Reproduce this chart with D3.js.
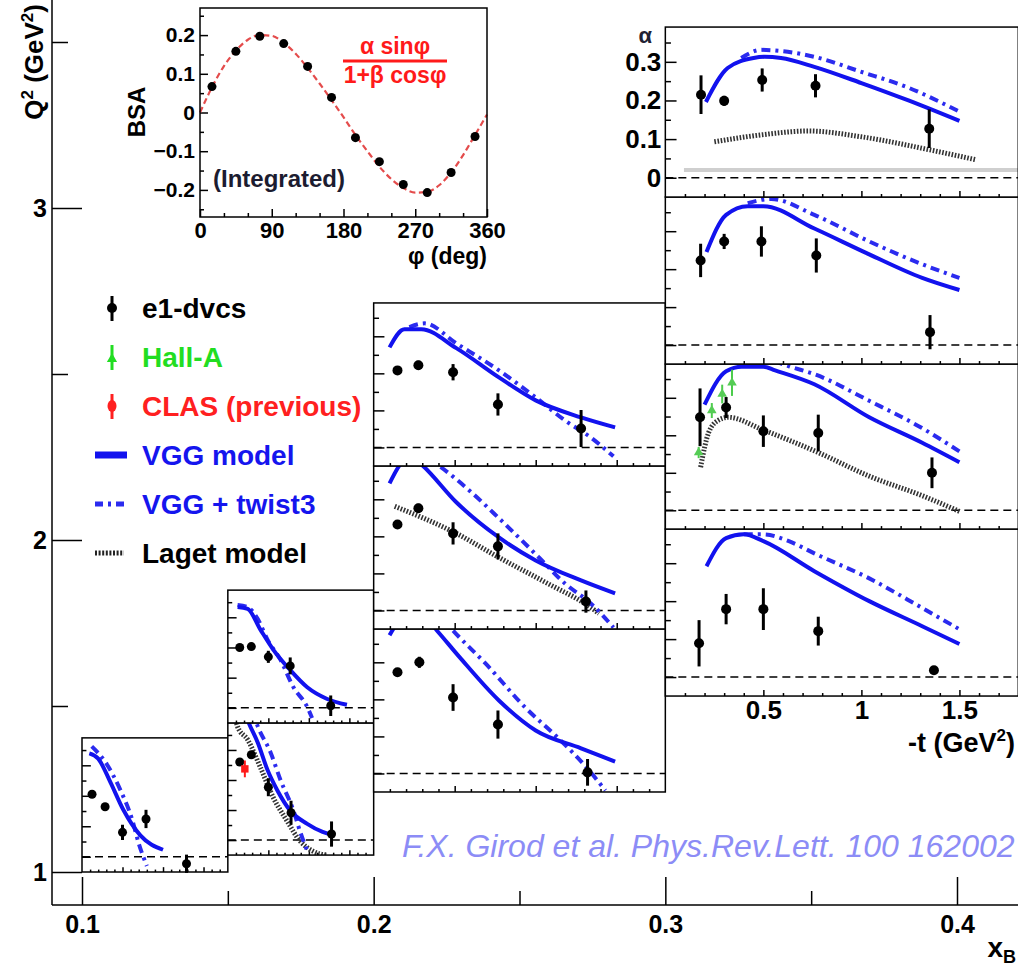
<!DOCTYPE html>
<html>
<head>
<meta charset="utf-8">
<script src="https://cdn.jsdelivr.net/npm/d3@7"></script>
<style>
  body { margin: 0; background: #fff; }
  svg text { font-family: "Liberation Sans", Arial, Helvetica, sans-serif; font-weight: bold; }
  svg text.cite { font-weight: normal; font-style: italic; }
</style>
</head>
<body>
<svg id="chart" width="1018" height="966"></svg>
<script>
// ---- main axes ticks ----
const q2Major = [1, 2, 3]
const q2Minor = [1.5, 2.5, 3.5]
const xbMajor = [0.1, 0.2, 0.3, 0.4]
const xbMinor = [0.15, 0.25, 0.35]

// ---- panel axes ticks ----
const tMajor = [0.5, 1, 1.5]
const tMinor = [0.1, 0.2, 0.3, 0.4, 0.6, 0.7, 0.8, 0.9, 1.1, 1.2, 1.3, 1.4, 1.6, 1.7]
const aMajor = [0, 0.1, 0.2, 0.3]
const aMinor = [0.05, 0.15, 0.25, 0.35]

// ---- data: [-t, alpha, error] for points, [-t, alpha] for curves ----
// xB 0.10-0.15
const e1A = [[0.124, 0.205, 0.012], [0.285, 0.164, 0.012], [0.50, 0.080, 0.025], [0.79, 0.124, 0.03], [1.29, -0.023, 0.03]]
const vggA = [[0.09, 0.339], [0.20, 0.322], [0.35, 0.245], [0.51, 0.154], [0.72, 0.070], [1.00, 0.023]]
const tw3A = [[0.12, 0.362], [0.285, 0.312], [0.47, 0.221], [0.62, 0.121], [0.70, 0.044], [0.80, -0.030]]

// xB 0.15-0.20, low Q2
const e1B1 = [[0.147, 0.26, 0.01], [0.29, 0.284, 0.012], [0.50, 0.176, 0.03], [0.78, 0.091, 0.04], [1.28, 0.02, 0.042]]
const clasB1 = [[0.21, 0.237, 0.028]]
const vggB1 = [[0.20, 0.43], [0.26, 0.389], [0.37, 0.324], [0.49, 0.233], [0.61, 0.166], [0.77, 0.098], [0.98, 0.054], [1.17, 0.027], [1.30, 0.017]]
const tw3B1 = [[0.30, 0.43], [0.37, 0.378], [0.53, 0.29], [0.65, 0.20], [0.81, 0.098], [0.89, 0.03], [0.98, -0.037]]
const lagB1 = [[0.10, 0.40], [0.12, 0.378], [0.245, 0.334], [0.40, 0.243], [0.56, 0.142], [0.73, 0.064], [0.89, -0.003], [1.05, -0.037], [1.22, -0.05]]

// xB 0.15-0.20, high Q2
const e1B2 = [[0.147, 0.20, 0.01], [0.29, 0.203, 0.01], [0.50, 0.169, 0.02], [0.77, 0.139, 0.028], [1.27, 0.007, 0.034]]
const vggB2 = [[0.12, 0.334], [0.245, 0.328], [0.40, 0.26], [0.56, 0.193], [0.77, 0.125], [0.98, 0.068], [1.22, 0.03], [1.47, 0.01]]
const tw3B2 = [[0.12, 0.341], [0.245, 0.334], [0.37, 0.294], [0.49, 0.226], [0.65, 0.159], [0.81, 0.068], [0.98, 0.003], [1.04, -0.034]]

// xB 0.20-0.30
const e1C1 = [[0.147, 0.273, 0.01], [0.282, 0.30, 0.015], [0.49, 0.205, 0.036], [0.767, 0.132, 0.038], [1.32, 0.003, 0.036]]
const vggC1 = [[0.098, 0.373], [0.18, 0.42], [0.30, 0.43], [0.39, 0.386], [0.53, 0.314], [0.773, 0.197], [1.0, 0.116], [1.28, 0.068], [1.49, 0.032]]
const tw3C1 = [[0.40, 0.43], [0.50, 0.381], [0.69, 0.297], [0.94, 0.176], [1.14, 0.095], [1.33, 0.008], [1.43, -0.046]]

const e1C2 = [[0.147, 0.232, 0.01], [0.276, 0.276, 0.012], [0.49, 0.208, 0.03], [0.767, 0.173, 0.035], [1.31, 0.024, 0.03]]
const vggC2 = [[0.098, 0.343], [0.16, 0.392], [0.22, 0.42], [0.30, 0.392], [0.51, 0.292], [0.773, 0.197], [1.0, 0.135], [1.28, 0.081], [1.49, 0.046]]
const tw3C2 = [[0.30, 0.42], [0.417, 0.386], [0.59, 0.324], [0.773, 0.249], [1.02, 0.143], [1.18, 0.073], [1.34, 0.019], [1.48, -0.046]]
const lagC2 = [[0.13, 0.281], [0.51, 0.208], [0.773, 0.143], [1.06, 0.076], [1.34, 0.008], [1.39, -0.008]]

const e1C3 = [[0.147, 0.208, 0.01], [0.276, 0.222, 0.012], [0.49, 0.203, 0.022], [0.767, 0.116, 0.03], [1.28, 0.051, 0.05]]
const vggC3 = [[0.098, 0.27], [0.19, 0.319], [0.294, 0.319], [0.51, 0.268], [0.773, 0.189], [1.0, 0.127], [1.28, 0.081], [1.49, 0.054]]
const tw3C3 = [[0.22, 0.325], [0.313, 0.335], [0.51, 0.281], [0.773, 0.208], [1.0, 0.135], [1.18, 0.073], [1.34, 0.027], [1.48, -0.024]]

// xB 0.30-0.42
const e1D1 = [[0.172, 0.089, 0.061], [0.31, 0.179, 0.04], [0.50, 0.179, 0.055], [0.78, 0.121, 0.038], [1.37, 0.018, 0.01]]
const vggD1 = [[0.21, 0.292], [0.31, 0.366], [0.40, 0.376], [0.50, 0.358], [0.76, 0.279], [1.04, 0.20], [1.31, 0.134], [1.50, 0.087]]
const tw3D1 = [[0.40, 0.376], [0.50, 0.376], [0.63, 0.358], [0.76, 0.326], [1.04, 0.26], [1.31, 0.182], [1.50, 0.126]]

const e1D2 = [[0.177, 0.248, 0.077], [0.31, 0.274, 0.028], [0.50, 0.211, 0.042], [0.78, 0.206, 0.049], [1.36, 0.10, 0.041]]
const hallD2 = [[0.17, 0.154, 0.015], [0.237, 0.266, 0.02], [0.29, 0.31, 0.025], [0.34, 0.34, 0.035]]
const vggD2 = [[0.20, 0.282], [0.31, 0.371], [0.39, 0.383], [0.50, 0.383], [0.56, 0.373], [0.76, 0.336], [1.04, 0.248], [1.31, 0.18], [1.50, 0.128]]
const tw3D2 = [[0.45, 0.42], [0.63, 0.384], [0.76, 0.363], [1.04, 0.292], [1.31, 0.219], [1.50, 0.157]]
const lagD2 = [[0.18, 0.115], [0.22, 0.206], [0.27, 0.24], [0.32, 0.248], [0.50, 0.214], [0.78, 0.154], [1.04, 0.091], [1.31, 0.039], [1.50, -0.003]]

const e1D3 = [[0.18, 0.223, 0.044], [0.30, 0.273, 0.02], [0.49, 0.273, 0.04], [0.77, 0.236, 0.045], [1.35, 0.034, 0.045]]
const vggD3 = [[0.21, 0.245], [0.31, 0.343], [0.42, 0.366], [0.50, 0.366], [0.76, 0.307], [1.04, 0.239], [1.31, 0.177], [1.50, 0.145]]
const tw3D3 = [[0.42, 0.374], [0.54, 0.385], [0.76, 0.343], [1.04, 0.273], [1.31, 0.213], [1.50, 0.177]]

const e1D4 = [[0.182, 0.215, 0.05], [0.30, 0.199, 0.013], [0.494, 0.253, 0.03], [0.766, 0.238, 0.03], [1.346, 0.127, 0.05]]
const vggD4 = [[0.207, 0.196], [0.318, 0.284], [0.45, 0.31], [0.505, 0.313], [0.59, 0.31], [0.76, 0.287], [1.0, 0.245], [1.24, 0.20], [1.50, 0.147]]
const tw3D4 = [[0.387, 0.31], [0.49, 0.331], [0.59, 0.328], [0.76, 0.313], [1.0, 0.274], [1.24, 0.233], [1.50, 0.171]]
const lagD4 = [[0.25, 0.093], [0.49, 0.111], [0.73, 0.121], [1.0, 0.106], [1.35, 0.072], [1.58, 0.047]]
const bandD4 = [[0.095, 0.02], [1.8, 0.02]]

// ---- integrated BSA inset ----
const bsaPhi = [15, 45, 75, 105, 135, 165, 195, 225, 255, 285, 315, 345]
const bsaVal = [0.067, 0.158, 0.197, 0.178, 0.119, 0.039, -0.065, -0.127, -0.186, -0.207, -0.155, -0.062]
const fitPhi = [0, 15, 30, 45, 60, 75, 90, 105, 120, 135, 150, 165, 180, 195, 210, 225, 240, 255, 270, 285, 300, 315, 330, 345, 360]
const fitVal = [0.0, 0.065, 0.12, 0.16, 0.188, 0.20, 0.198, 0.18, 0.152, 0.115, 0.075, 0.032, -0.012, -0.058, -0.10, -0.14, -0.172, -0.195, -0.207, -0.205, -0.188, -0.155, -0.11, -0.058, -0.005]
const phiTicks = [0, 90, 180, 270, 360]
const phiMinor = [30, 60, 120, 150, 210, 240, 300, 330]
const bsaTicks = [-0.2, -0.1, 0, 0.1, 0.2]
const bsaMinor = [-0.25, -0.15, -0.05, 0.05, 0.15, 0.25]

// ---- legend ----
const legendNames = ['e1-dvcs', 'Hall-A', 'CLAS (previous)', 'VGG model', 'VGG + twist3', 'Laget model']
const legendColors = ['#000', '#22dd22', '#ff2020', '#1515ee', '#1515ee', '#000']

const BLUE = '#1212ee'
const BLUE2 = '#2b2bef'

const svg = d3.select('#chart')
svg.append('rect').attr('width', 1018).attr('height', 966).attr('fill', '#fff')

// main scales
const xB = d3.scaleLinear().domain([0.1, 0.4]).range([82, 957])
const yQ = d3.scaleLinear().domain([1, 3]).range([872, 208])
const axX = 52, axY = 905

const styleAxis = (g, size) => {
  g.attr('font-size', size).attr('font-family', null)
  g.select('.domain').remove()
  g.selectAll('.tick line').attr('stroke', '#000').attr('stroke-width', 1.5)
  g.selectAll('.tick text').attr('fill', '#000')
}

// Q2 axis
svg.append('g').attr('transform', `translate(${axX},0)`)
  .call(d3.axisLeft(yQ).tickValues(q2Major).tickSize(-30).tickPadding(5).tickFormat(d3.format('d')))
  .call(g => styleAxis(g, 25))
svg.append('g').attr('transform', `translate(${axX},0)`)
  .call(d3.axisLeft(yQ).tickValues(q2Minor).tickSize(-16).tickFormat(''))
  .call(g => styleAxis(g, 25))

// xB axis
svg.append('g').attr('transform', `translate(0,${axY})`)
  .call(d3.axisBottom(xB).tickValues(xbMajor).tickSize(-28).tickPadding(10).tickFormat(d3.format('.1f')))
  .call(g => styleAxis(g, 25))
svg.append('g').attr('transform', `translate(0,${axY})`)
  .call(d3.axisBottom(xB).tickValues(xbMinor).tickSize(-14).tickFormat(''))
  .call(g => styleAxis(g, 25))

svg.append('line').attr('x1', axX).attr('x2', axX).attr('y1', 0).attr('y2', axY).attr('stroke', '#000').attr('stroke-width', 1.5)
svg.append('line').attr('x1', axX).attr('x2', 1018).attr('y1', axY).attr('y2', axY).attr('stroke', '#000').attr('stroke-width', 1.5)

// axis titles
const q2Title = svg.append('text').attr('transform', 'translate(43,4) rotate(-90)')
  .attr('text-anchor', 'end').attr('font-size', 26)
q2Title.append('tspan').text('Q')
q2Title.append('tspan').attr('font-size', 17).attr('dy', -10).text('2')
q2Title.append('tspan').attr('dy', 10).text(' (GeV')
q2Title.append('tspan').attr('font-size', 17).attr('dy', -10).text('2')
q2Title.append('tspan').attr('dy', 10).text(')')

const xbTitle = svg.append('text').attr('x', 1016).attr('y', 957).attr('text-anchor', 'end').attr('font-size', 28)
xbTitle.append('tspan').text('x')
xbTitle.append('tspan').attr('font-size', 18).attr('dy', 6).text('B')

// ---- panels ----
const tDomain = [0, 1.8]
const aDomain = [-0.05, 0.39]
const panels = [
  { xb: [0.10, 0.15], q2: [1.000, 1.404], pts: e1A, vgg: vggA, tw3: tw3A },
  { xb: [0.15, 0.20], q2: [1.051, 1.449], pts: e1B1, vgg: vggB1, tw3: tw3B1, lag: lagB1, clas: clasB1 },
  { xb: [0.15, 0.20], q2: [1.449, 1.849], pts: e1B2, vgg: vggB2, tw3: tw3B2 },
  { xb: [0.20, 0.30], q2: [1.241, 1.732], pts: e1C1, vgg: vggC1, tw3: tw3C1 },
  { xb: [0.20, 0.30], q2: [1.732, 2.223], pts: e1C2, vgg: vggC2, tw3: tw3C2, lag: lagC2 },
  { xb: [0.20, 0.30], q2: [2.223, 2.714], pts: e1C3, vgg: vggC3, tw3: tw3C3 },
  { xb: [0.30, 0.421], q2: [1.530, 2.033], pts: e1D1, vgg: vggD1, tw3: tw3D1, xLabels: true },
  { xb: [0.30, 0.421], q2: [2.033, 2.530], pts: e1D2, vgg: vggD2, tw3: tw3D2, lag: lagD2, hall: hallD2 },
  { xb: [0.30, 0.421], q2: [2.530, 3.033], pts: e1D3, vgg: vggD3, tw3: tw3D3 },
  { xb: [0.30, 0.421], q2: [3.033, 3.545], pts: e1D4, vgg: vggD4, tw3: tw3D4, lag: lagD4, band: bandD4, yLabels: true }
]

panels.forEach((p, i) => {
  const x0 = xB(p.xb[0]), x1 = xB(p.xb[1])
  const yT = yQ(p.q2[1]), yB = yQ(p.q2[0])
  const h = yB - yT
  const tx = d3.scaleLinear().domain(tDomain).range([x0, x1])
  const ay = d3.scaleLinear().domain(aDomain).range([yB, yT])
  const line = d3.line().x(d => tx(d[0])).y(d => ay(d[1])).curve(d3.curveMonotoneX)
  const g = svg.append('g')

  g.append('clipPath').attr('id', 'clip' + i)
    .append('rect').attr('x', x0).attr('y', yT).attr('width', x1 - x0).attr('height', h)
  g.append('rect').attr('x', x0).attr('y', yT).attr('width', x1 - x0).attr('height', h).attr('fill', '#fff')

  const yMaj = h * 0.066, xMaj = h * 0.036
  g.append('g').attr('transform', `translate(${x0},0)`)
    .call(d3.axisLeft(ay).tickValues(aMajor).tickSize(-yMaj).tickPadding(4)
      .tickFormat(p.yLabels ? d3.format('.1~f') : ''))
    .call(a => styleAxis(a, 26))
  g.append('g').attr('transform', `translate(${x0},0)`)
    .call(d3.axisLeft(ay).tickValues(aMinor).tickSize(-yMaj / 2).tickFormat(''))
    .call(a => styleAxis(a, 26))
  g.append('g').attr('transform', `translate(0,${yB})`)
    .call(d3.axisBottom(tx).tickValues(tMajor).tickSize(-xMaj).tickPadding(4)
      .tickFormat(p.xLabels ? d3.format('~g') : ''))
    .call(a => styleAxis(a, 26))
  g.append('g').attr('transform', `translate(0,${yB})`)
    .call(d3.axisBottom(tx).tickValues(tMinor).tickSize(-xMaj / 2).tickFormat(''))
    .call(a => styleAxis(a, 26))

  // zero line
  g.append('line').attr('x1', x0).attr('x2', x1).attr('y1', ay(0)).attr('y2', ay(0))
    .attr('stroke', '#000').attr('stroke-width', 1.5).attr('stroke-dasharray', '8,5')

  const cg = g.append('g').attr('clip-path', `url(#clip${i})`)
  if (p.band) {
    cg.append('path').datum(p.band).attr('d', line).attr('fill', 'none')
      .attr('stroke', '#cfcfcf').attr('stroke-width', 4)
  }
  if (p.lag) {
    cg.append('path').datum(p.lag).attr('d', line).attr('fill', 'none')
      .attr('stroke', '#333').attr('stroke-width', 5).attr('stroke-dasharray', '1.6,1.6')
  }
  cg.append('path').datum(p.tw3).attr('d', line).attr('fill', 'none')
    .attr('stroke', BLUE2).attr('stroke-width', 4).attr('stroke-dasharray', '9,5,3,5')
  cg.append('path').datum(p.vgg).attr('d', line).attr('fill', 'none')
    .attr('stroke', BLUE).attr('stroke-width', 4)

  const r = h > 150 ? 5 : 4.5
  const pg = g.append('g')
  pg.selectAll('line.err').data(p.pts).join('line')
    .attr('x1', d => tx(d[0])).attr('x2', d => tx(d[0]))
    .attr('y1', d => ay(d[1] - d[2])).attr('y2', d => ay(d[1] + d[2]))
    .attr('stroke', '#000').attr('stroke-width', 3)
  pg.selectAll('circle').data(p.pts).join('circle')
    .attr('cx', d => tx(d[0])).attr('cy', d => ay(d[1])).attr('r', r).attr('fill', '#000')

  if (p.hall) {
    const hg = g.append('g')
    hg.selectAll('line').data(p.hall).join('line')
      .attr('x1', d => tx(d[0])).attr('x2', d => tx(d[0]))
      .attr('y1', d => ay(d[1] - d[2])).attr('y2', d => ay(d[1] + d[2]))
      .attr('stroke', '#4ccc4c').attr('stroke-width', 2)
    hg.selectAll('path').data(p.hall).join('path')
      .attr('d', d3.symbol().type(d3.symbolTriangle).size(40))
      .attr('transform', d => `translate(${tx(d[0])},${ay(d[1])})`)
      .attr('fill', '#55cc55')
  }
  if (p.clas) {
    const rg = g.append('g')
    rg.selectAll('line.v').data(p.clas).join('line')
      .attr('x1', d => tx(d[0])).attr('x2', d => tx(d[0]))
      .attr('y1', d => ay(d[1] - d[2])).attr('y2', d => ay(d[1] + d[2]))
      .attr('stroke', '#ff1a1a').attr('stroke-width', 2)
    rg.selectAll('path').data(p.clas).join('path')
      .attr('d', d3.symbol().type(d3.symbolSquare).size(55))
      .attr('transform', d => `translate(${tx(d[0])},${ay(d[1])})`)
      .attr('fill', '#ff1a1a')
  }

  g.append('rect').attr('x', x0).attr('y', yT).attr('width', x1 - x0).attr('height', h)
    .attr('fill', 'none').attr('stroke', '#000').attr('stroke-width', 1.5)

  if (p.yLabels) {
    g.append('text').attr('x', x0 - 20).attr('y', yT + 16).attr('text-anchor', 'middle')
      .attr('font-size', 22).attr('fill', '#223').text('α')
  }
  if (p.xLabels) {
    const tt = g.append('text').attr('x', 1015).attr('y', yB + 56).attr('text-anchor', 'end').attr('font-size', 27)
    tt.append('tspan').text('-t (GeV')
    tt.append('tspan').attr('font-size', 17).attr('dy', -11).text('2')
    tt.append('tspan').attr('dy', 11).text(')')
  }
})

// ---- inset: integrated BSA ----
const phiX = d3.scaleLinear().domain([0, 360]).range([200, 487])
const bsaY = d3.scaleLinear().domain([-0.27, 0.27]).range([217, 8])
const ig = svg.append('g')
ig.append('rect').attr('x', 200).attr('y', 8).attr('width', 287).attr('height', 209).attr('fill', '#fff')
ig.append('g').attr('transform', 'translate(200,0)')
  .call(d3.axisLeft(bsaY).tickValues(bsaTicks).tickSize(-8).tickPadding(5).tickFormat(d3.format('.1~f')))
  .call(a => styleAxis(a, 21))
ig.append('g').attr('transform', 'translate(200,0)')
  .call(d3.axisLeft(bsaY).tickValues(bsaMinor).tickSize(-4).tickFormat(''))
  .call(a => styleAxis(a, 21))
ig.append('g').attr('transform', 'translate(0,217)')
  .call(d3.axisBottom(phiX).tickValues(phiTicks).tickSize(-8).tickPadding(5).tickFormat(d3.format('d')))
  .call(a => styleAxis(a, 22))
ig.append('g').attr('transform', 'translate(0,217)')
  .call(d3.axisBottom(phiX).tickValues(phiMinor).tickSize(-4).tickFormat(''))
  .call(a => styleAxis(a, 22))

ig.append('path').datum(d3.zip(fitPhi, fitVal))
  .attr('d', d3.line().x(d => phiX(d[0])).y(d => bsaY(d[1])).curve(d3.curveMonotoneX))
  .attr('fill', 'none').attr('stroke', '#e44c4c').attr('stroke-width', 2.2).attr('stroke-dasharray', '6,3.5')
ig.selectAll('circle').data(d3.zip(bsaPhi, bsaVal)).join('circle')
  .attr('cx', d => phiX(d[0])).attr('cy', d => bsaY(d[1])).attr('r', 4.5).attr('fill', '#000')
ig.append('rect').attr('x', 200).attr('y', 8).attr('width', 287).attr('height', 209)
  .attr('fill', 'none').attr('stroke', '#000').attr('stroke-width', 1.5)

ig.append('text').attr('transform', 'translate(145,112) rotate(-90)').attr('text-anchor', 'middle')
  .attr('font-size', 24).text('BSA')
ig.append('text').attr('x', 487).attr('y', 264).attr('text-anchor', 'end').attr('font-size', 23).text('φ (deg)')
ig.append('text').attr('x', 213).attr('y', 187).attr('font-size', 24).attr('fill', '#1c1c30').text('(Integrated)')
ig.append('text').attr('x', 395).attr('y', 54).attr('text-anchor', 'middle').attr('font-size', 23)
  .attr('fill', '#ff1a1a').text('α sinφ')
ig.append('line').attr('x1', 343).attr('x2', 447).attr('y1', 61).attr('y2', 61)
  .attr('stroke', '#ff1a1a').attr('stroke-width', 3)
ig.append('text').attr('x', 395).attr('y', 83).attr('text-anchor', 'middle').attr('font-size', 23)
  .attr('fill', '#ff1a1a').text('1+β cosφ')

// ---- legend ----
const ly = d3.scalePoint().domain(legendNames).range([318, 563])
const lg = svg.append('g')
lg.selectAll('text').data(legendNames).join('text')
  .attr('x', 142).attr('y', d => ly(d)).attr('font-size', 28)
  .attr('fill', (d, i) => legendColors[i]).text(d => d)

const mk = d => ly(d) - 10
// point markers
legendNames.slice(0, 3).forEach((n, i) => {
  lg.append('line').attr('x1', 112).attr('x2', 112).attr('y1', mk(n) - 12).attr('y2', mk(n) + 13)
    .attr('stroke', legendColors[i]).attr('stroke-width', 3)
})
lg.append('circle').attr('cx', 112).attr('cy', mk(legendNames[0])).attr('r', 5).attr('fill', legendColors[0])
lg.append('path').attr('d', d3.symbol().type(d3.symbolTriangle).size(45))
  .attr('transform', `translate(112,${mk(legendNames[1]) + 2})`).attr('fill', legendColors[1])
lg.append('ellipse').attr('cx', 112).attr('cy', mk(legendNames[2])).attr('rx', 4.5).attr('ry', 6).attr('fill', legendColors[2])
// line markers
lg.append('line').attr('x1', 95).attr('x2', 127).attr('y1', mk(legendNames[3])).attr('y2', mk(legendNames[3]))
  .attr('stroke', BLUE).attr('stroke-width', 7)
lg.append('line').attr('x1', 95).attr('x2', 124).attr('y1', mk(legendNames[4])).attr('y2', mk(legendNames[4]))
  .attr('stroke', BLUE2).attr('stroke-width', 5).attr('stroke-dasharray', '8,5,3,5')
lg.append('line').attr('x1', 95).attr('x2', 124).attr('y1', mk(legendNames[5])).attr('y2', mk(legendNames[5]))
  .attr('stroke', '#222').attr('stroke-width', 5).attr('stroke-dasharray', '2,1.6')

// citation
svg.append('text').attr('class', 'cite').attr('x', 402).attr('y', 857).attr('font-size', 32)
  .attr('fill', '#8c8cf6').text('F.X. Girod et al. Phys.Rev.Lett. 100 162002')
</script>
</body>
</html>
